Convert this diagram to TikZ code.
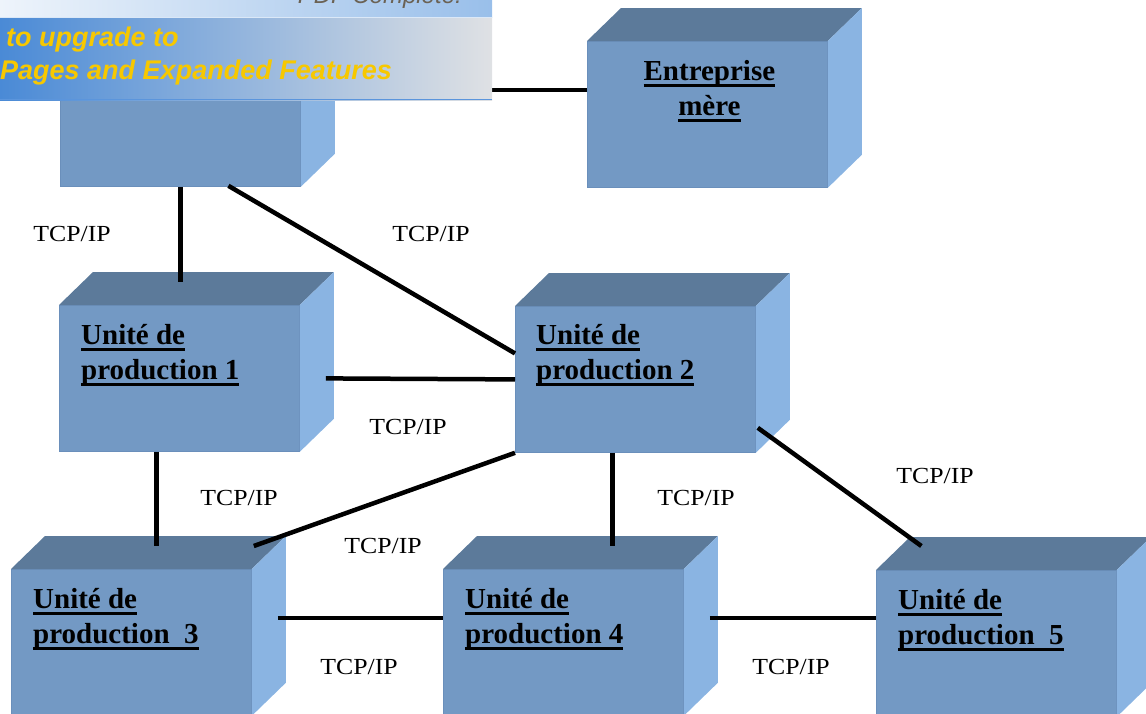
\documentclass[tikz,border=0pt]{standalone}
\usepackage{fontspec}
\usepackage{graphicx}
\setmainfont{Liberation Serif}
\newfontfamily\bannerfont{Liberation Sans}
\usetikzlibrary{calc}
\definecolor{frontc}{HTML}{7399C4}
\definecolor{frontedge}{HTML}{6A8FBB}
\definecolor{topc}{HTML}{5C7A9A}
\definecolor{sidec}{HTML}{8AB4E2}
\definecolor{bannerA}{HTML}{4A8AD6}
\definecolor{bannerB}{HTML}{8FB3DA}
\definecolor{bannerC}{HTML}{DFE1E4}
\definecolor{stripA}{HTML}{EEF4FB}
\definecolor{stripB}{HTML}{99BFEA}
\definecolor{bannerline}{HTML}{5B95DC}
\definecolor{gold}{HTML}{F7C800}
\definecolor{logogray}{HTML}{6B6254}
\newcommand\myul[1]{\setbox0=\hbox{#1}\rlap{\rule[-6.5pt]{\wd0}{2.5pt}}\box0}
\tikzset{
  frontbox/.style={draw=frontedge, line width=0.8pt, fill=frontc, minimum width=240pt, minimum height=146pt, inner sep=0pt, anchor=north west},
  boxtext/.style={font=\bfseries\fontsize{29}{35}\selectfont, inner sep=0pt, align=left, anchor=base west},
  boxtextc/.style={font=\bfseries\fontsize{29}{35}\selectfont, inner sep=0pt, align=center, anchor=base},
  conn/.style={line width=4.5pt, black},
  lbl/.style={font=\fontsize{23}{27}\selectfont, inner sep=0pt, anchor=base},
  bannertxt/.style={font=\bannerfont\bfseries\itshape\fontsize{27}{32}\selectfont, text=gold, inner sep=0pt, anchor=base west}
}
\newcommand\tcp{\scalebox{1.12}[1]{TCP/IP}}
\begin{document}
\begin{tikzpicture}[x=1pt,y=-1pt]
\useasboundingbox (0,0) rectangle (1146,713);
\clip (0,0) rectangle (1146,713);
% boxes (front faces)
\node[frontbox] (b0) at (60,40) {};
\node[frontbox] (em) at (587,41) {};
\node[frontbox] (u1) at (59,305) {};
\node[frontbox] (u2) at (515,306) {};
\node[frontbox] (u3) at (11,569) {};
\node[frontbox] (u4) at (443,569) {};
\node[frontbox] (u5) at (876,570) {};
\foreach \n in {b0,em,u1,u2,u3,u4,u5}{
  \fill[topc] (\n.north west) -- ++(34,-33) -- ($(\n.north east)+(34,-33)$) -- (\n.north east) -- cycle;
  \fill[sidec] (\n.north east) -- ++(34,-33) -- ($(\n.south east)+(34,-33)$) -- (\n.south east) -- cycle;
}
% box texts (anchor = baseline of the last line)
\node[boxtextc] (temu) at ($(em.north)+(2,74)$) {\myul{Entreprise}\\\myul{mère}};
\node[boxtext] (t1) at ($(u1.north west)+(22,74)$) {\myul{Unité de}\\\myul{production 1}};
\node[boxtext] (t2) at ($(u2.north west)+(21,73)$) {\myul{Unité de}\\\myul{production 2}};
\node[boxtext] (t3) at ($(u3.north west)+(22,74)$) {\myul{Unité de}\\\myul{production~~3}};
\node[boxtext] (t4) at ($(u4.north west)+(22,74)$) {\myul{Unité de}\\\myul{production 4}};
\node[boxtext] (t5) at ($(u5.north west)+(22,74)$) {\myul{Unité de}\\\myul{production~~5}};
% connectors
\draw[conn] ($(b0.north east)+(33,50)$) -- ($(em.north west)+(0,49)$);
\draw[conn] ($(b0.south)+(0,0)$) -- ($(u1.north)+(1,-23)$);
\draw[conn] ($(b0.south)+(48,-1)$) -- ($(u2.west)+(0,-26)$);
\draw[conn] ($(u1.east)+(26,0)$) -- (u2.west);
\draw[conn] ($(u1.south)+(-23,0)$) -- ($(u3.north)+(25,-23)$);
\draw[conn] (u2.south west) -- ($(u3.north east)+(2,-23)$);
\draw[conn] ($(u2.south)+(-23,0)$) -- ($(u4.north)+(49,-23)$);
\draw[conn] ($(u2.south east)+(2,-25)$) -- ($(u5.north)+(-75,-24)$);
\draw[conn] ($(u3.north east)+(26,49)$) -- ($(u4.north west)+(0,49)$);
\draw[conn] ($(u4.north east)+(26,49)$) -- ($(u5.north west)+(0,48)$);
% labels
\node[lbl] (l1) at (72,241) {\tcp};
\node[lbl] (l2) at (431,241) {\tcp};
\node[lbl] (l3) at (408,434) {\tcp};
\node[lbl] (l4) at (239,505) {\tcp};
\node[lbl] (l5) at (383,553) {\tcp};
\node[lbl] (l6) at (696,505) {\tcp};
\node[lbl] (l7) at (935,483) {\tcp};
\node[lbl] (l8) at (359,674) {\tcp};
\node[lbl] (l9) at (791,674) {\tcp};
% banner
\shade[left color=stripA, right color=stripB] (0,0) rectangle (492,17);
\shade[left color=bannerA, middle color=bannerB, right color=bannerC] (0,17) rectangle (492,100);
\draw[white!80!bannerA, line width=1pt] (0,17) -- (492,17);
\draw[bannerline, line width=1.5pt] (0,99.5) -- (492,99.5);
\begin{scope}
\clip (0,0) rectangle (492,17);
\node[font=\bannerfont\itshape\fontsize{24}{28}\selectfont, text=logogray, inner sep=0pt, anchor=base east] (logo) at (462,3) {PDF Complete.};
\end{scope}
\node[bannertxt] (bt1) at (6,46) {to upgrade to};
\node[bannertxt] (bt2) at (0,79) {Pages and Expanded Features};
\end{tikzpicture}
\end{document}
